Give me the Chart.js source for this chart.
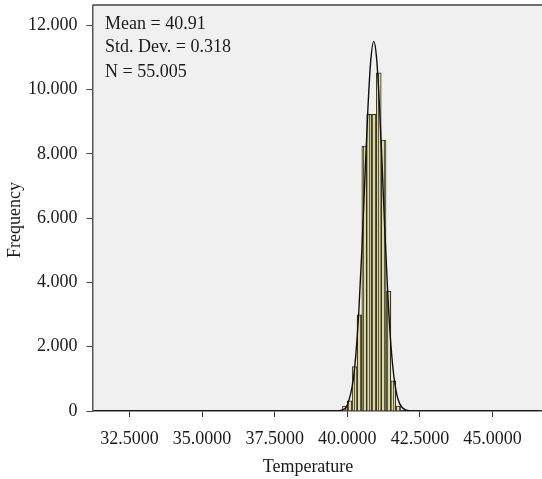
<!DOCTYPE html>
<html>
<head>
<meta charset="utf-8">
<script src="https://cdn.jsdelivr.net/npm/chart.js@4"></script>
<style>
  html, body { margin: 0; padding: 0; background: #ffffff; }
  #wrap { width: 542px; height: 479px; position: relative; }
</style>
</head>
<body>
<div id="wrap"><canvas id="chart"></canvas></div>
<script>
// histogram bins (centres, bin width 1/6 degree)
const binCenters = [39.917, 40.083, 40.25, 40.417, 40.583, 40.75, 40.917, 41.083, 41.25, 41.417, 41.583, 41.75];
const binCounts = [150, 320, 1380, 2990, 8240, 9230, 9230, 10520, 8430, 3730, 940, 155];

// normal curve
const curveX = [31.3, 39.3, 39.6, 39.8, 40.0, 40.2, 40.3, 40.4, 40.5, 40.6, 40.7, 40.8, 40.91, 41.0, 41.1, 41.2, 41.3, 41.4, 41.5, 41.6, 41.7, 41.8, 42.0, 42.2, 42.5, 46.6];
const curveY = [0, 0, 4, 26, 190, 950, 1830, 3180, 5010, 7150, 9250, 10830, 11500, 11050, 9620, 7590, 5420, 3510, 2060, 1090, 525, 230, 32, 3, 0, 0];

const xTicks = [32.5, 35.0, 37.5, 40.0, 42.5, 45.0];
const yTicks = [0, 2000, 4000, 6000, 8000, 10000, 12000];

const statLines = ['Mean = 40.91', 'Std. Dev. = 0.318', 'N = 55.005'];

const serif = '"Liberation Serif", "DejaVu Serif", serif';

function stripePattern() {
  const c = document.createElement('canvas');
  c.width = 3;
  c.height = 4;
  const g = c.getContext('2d');
  g.fillStyle = '#ddd7a0';
  g.fillRect(0, 0, 3, 4);
  g.fillStyle = '#5f5b3e';
  g.fillRect(0, 0, 1, 4);
  return g.createPattern(c, 'repeat');
}

const frame = {
  id: 'frame',
  beforeDraw(chart) {
    const { ctx, chartArea: a } = chart;
    ctx.save();
    ctx.fillStyle = '#f0f0f0';
    ctx.fillRect(a.left, a.top, a.right - a.left, a.bottom - a.top);
    ctx.strokeStyle = '#6e6e6e';
    ctx.lineWidth = 2;
    ctx.beginPath();
    ctx.moveTo(a.left, a.top - 1);
    ctx.lineTo(a.right, a.top - 1);
    ctx.stroke();
    ctx.restore();
  },
  afterDraw(chart) {
    const { ctx } = chart;
    ctx.save();
    ctx.fillStyle = '#1a1a1a';
    ctx.font = '18px ' + serif;
    ctx.textBaseline = 'middle';
    ctx.textAlign = 'left';
    ctx.fillText(statLines[0], 105, 24);
    ctx.fillText(statLines[1], 105, 47);
    ctx.fillText(statLines[2], 105, 72);

    ctx.textAlign = 'center';
    ctx.fillText('Temperature', 308, 467);
    ctx.translate(15, 220);
    ctx.rotate(-Math.PI / 2);
    ctx.fillText('Frequency', 0, 0);
    ctx.restore();
  }
};

new Chart(document.getElementById('chart').getContext('2d'), {
  data: {
    datasets: [
      {
        type: 'line',
        label: 'Normal',
        data: curveX.map((x, i) => ({ x, y: curveY[i] })),
        borderColor: '#111111',
        borderWidth: 1.4,
        pointRadius: 0,
        cubicInterpolationMode: 'monotone',
        fill: false,
        order: 0,
      },
      {
        type: 'bar',
        label: 'Temperature',
        data: binCenters.map((x, i) => ({ x, y: binCounts[i] })),
        backgroundColor: stripePattern(),
        borderColor: '#2e2e22',
        borderWidth: 1,
        barPercentage: 1,
        categoryPercentage: 1,
        order: 1,
      },
    ],
  },
  options: {
    responsive: true,
    maintainAspectRatio: false,
    animation: false,
    layout: { padding: { top: 6, right: 0, left: 0, bottom: 0 } },
    plugins: {
      legend: { display: false },
      tooltip: { enabled: false },
    },
    scales: {
      x: {
        type: 'linear',
        offset: false,
        min: 31.23,
        max: 46.7,
        afterBuildTicks: (axis) => { axis.ticks = xTicks.map(v => ({ value: v })); },
        afterFit: (axis) => {
          axis.height = 68;
          axis.paddingLeft = 0;
          axis.paddingRight = 0;
        },
        ticks: {
          color: '#1a1a1a',
          padding: 11,
          maxRotation: 0,
          autoSkip: false,
          font: { family: serif, size: 18 },
          callback: (v) => Number(v).toFixed(4),
        },
        grid: {
          offset: false,
          drawOnChartArea: false,
          drawTicks: true,
          tickLength: 6,
          color: '#333333',
        },
        border: { color: '#333333', width: 1.5 },
      },
      y: {
        min: 0,
        max: 12600,
        afterBuildTicks: (axis) => { axis.ticks = yTicks.map(v => ({ value: v })); },
        afterFit: (axis) => {
          axis.width = 92.5;
          axis.paddingTop = 0;
          axis.paddingBottom = 0;
        },
        ticks: {
          color: '#1a1a1a',
          padding: 9,
          autoSkip: false,
          font: { family: serif, size: 18 },
          callback: (v) => v === 0 ? '0' : (v / 1000).toFixed(3),
        },
        grid: {
          drawOnChartArea: false,
          drawTicks: true,
          tickLength: 6,
          color: '#444444',
        },
        border: { color: '#555555', width: 1.5 },
      },
    },
  },
  plugins: [frame],
});
</script>
</body>
</html>
